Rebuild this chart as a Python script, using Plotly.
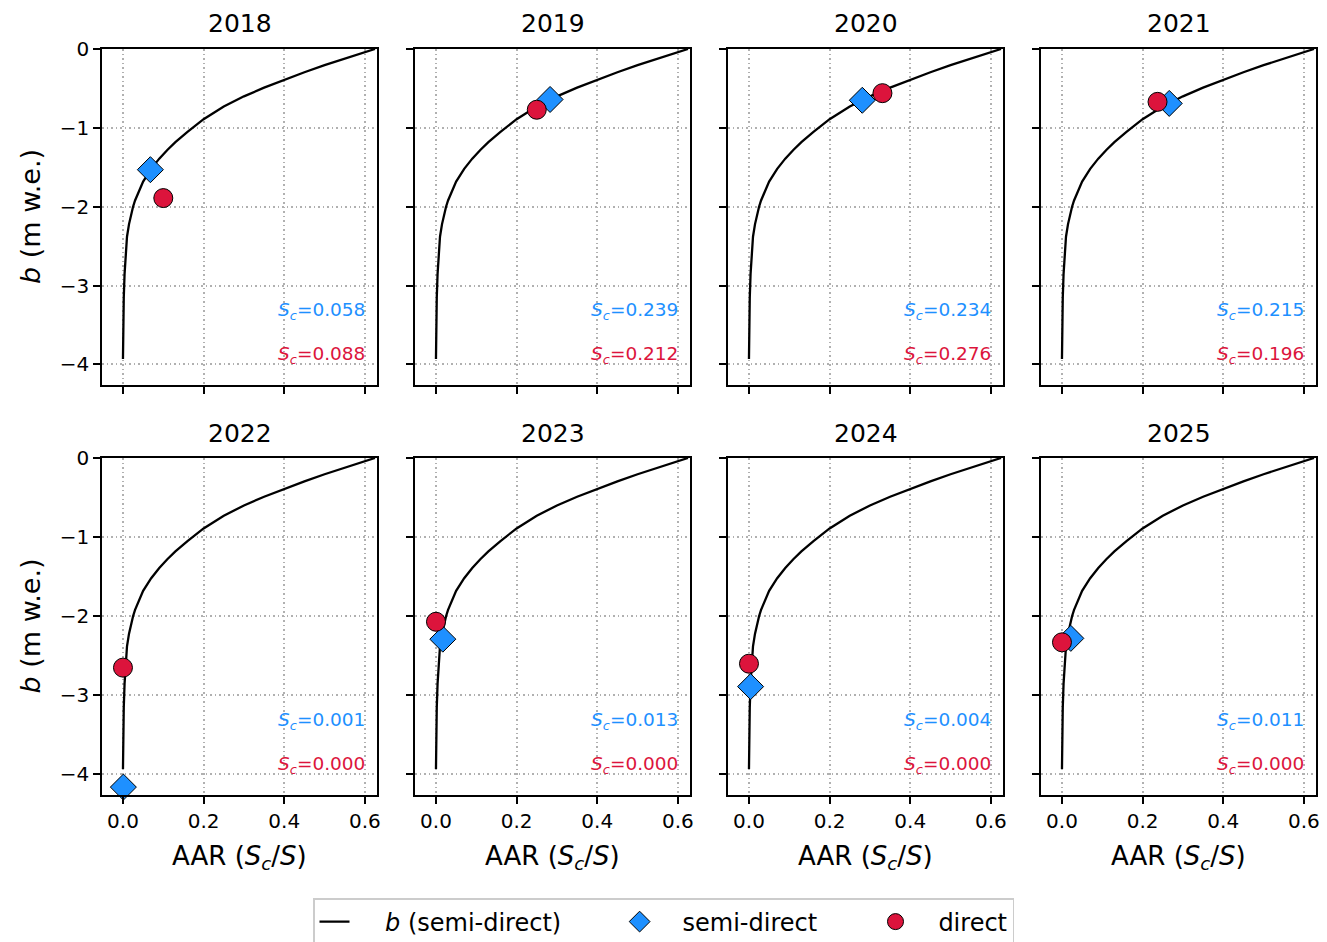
import plotly.graph_objects as go

W, H = 1327, 942

years = ["2018", "2019", "2020", "2021", "2022", "2023", "2024", "2025"]

# b (semi-direct) curve: AAR vs b (m w.e.)
curve_aar = [0.000, 0.0005, 0.001, 0.002, 0.004, 0.0066, 0.010, 0.015, 0.020, 0.025,
             0.030, 0.040, 0.050, 0.070, 0.090, 0.110, 0.130, 0.160, 0.200, 0.250,
             0.300, 0.350, 0.400, 0.450, 0.500, 0.550, 0.600, 0.625]
curve_b = [-3.93, -3.62, -3.40, -3.15, -2.85, -2.56, -2.38, -2.22, -2.10, -2.00,
           -1.92, -1.79, -1.68, -1.52, -1.39, -1.28, -1.18, -1.05, -0.89, -0.73,
           -0.60, -0.49, -0.39, -0.295, -0.205, -0.12, -0.04, 0.00]

# semi-direct points (diamonds)
semi_aar = [0.068, 0.283, 0.281, 0.266, 0.001, 0.017, 0.004, 0.022]
semi_b = [-1.53, -0.64, -0.65, -0.69, -4.16, -2.29, -2.89, -2.28]

# direct points (circles)
direct_aar = [0.100, 0.250, 0.331, 0.237, 0.000, 0.000, 0.000, 0.000]
direct_b = [-1.89, -0.77, -0.56, -0.67, -2.65, -2.07, -2.60, -2.33]

# Sc annotations
semi_sc = ["0.058", "0.239", "0.234", "0.215", "0.001", "0.013", "0.004", "0.011"]
direct_sc = ["0.088", "0.212", "0.276", "0.196", "0.000", "0.000", "0.000", "0.000"]

x_ticks = [0.0, 0.2, 0.4, 0.6]
x_ticktext = ["0.0", "0.2", "0.4", "0.6"]
y_ticks = [0, -1, -2, -3, -4]
y_ticktext = ["0", "\u22121", "\u22122", "\u22123", "\u22124"]

BLUE = "#1E90FF"
RED = "#DC143C"
FONT = "DejaVu Sans"
NB = "\u00a0"

col_px = [(102, 377), (415, 690), (728, 1003), (1041, 1316)]
row_px = [(49, 385), (458, 795)]

fig = go.Figure()
layout = dict(
    width=W, height=H,
    margin=dict(l=0, r=0, t=0, b=0, autoexpand=False),
    paper_bgcolor="white", plot_bgcolor="white",
    font=dict(family=FONT, color="black"),
    showlegend=True,
    legend=dict(orientation="h", x=0.5, xanchor="center",
                y=1 - 898 / H, yanchor="top",
                bordercolor="#cccccc", borderwidth=1.5, bgcolor="white",
                font=dict(size=24, family=FONT, color="black"),
                traceorder="normal"),
)
annotations = []

leg_names = [NB * 4 + "<i>b</i> (semi-direct)" + NB * 7,
             NB * 3 + "semi-direct" + NB * 7,
             NB * 3 + "direct"]

for i, yr in enumerate(years):
    r, c = divmod(i, 4)
    n = i + 1
    xa = "x" if n == 1 else f"x{n}"
    ya = "y" if n == 1 else f"y{n}"
    xk = "xaxis" if n == 1 else f"xaxis{n}"
    yk = "yaxis" if n == 1 else f"yaxis{n}"
    x0, x1 = col_px[c]
    y0, y1 = row_px[r]

    common = dict(showline=True, linecolor="black", linewidth=1.5, mirror=True,
                  ticks="outside", ticklen=7, tickwidth=1.5, tickcolor="black",
                  showgrid=True, gridcolor="#b0b0b0", griddash="1.5px,3px", gridwidth=1.5,
                  zeroline=False, tickfont=dict(size=20, family=FONT, color="black"))
    layout[xk] = dict(common, domain=[x0 / W, x1 / W], range=[-0.052, 0.630],
                      tickvals=x_ticks, ticktext=x_ticktext,
                      showticklabels=(r == 1), anchor=ya)
    layout[yk] = dict(common, domain=[1 - y1 / H, 1 - y0 / H], range=[-4.26, 0],
                      tickvals=y_ticks, ticktext=y_ticktext,
                      showticklabels=(c == 0), anchor=xa)

    fig.add_trace(go.Scatter(x=curve_aar, y=curve_b, mode="lines",
                             line=dict(color="black", width=2.3),
                             name=leg_names[0], legendgroup="curve",
                             showlegend=(i == 0), xaxis=xa, yaxis=ya))
    fig.add_trace(go.Scatter(x=[semi_aar[i]], y=[semi_b[i]], mode="markers",
                             marker=dict(symbol="diamond", size=20, color=BLUE,
                                         line=dict(color="black", width=1)),
                             name=leg_names[1], legendgroup="semi",
                             showlegend=(i == 0), xaxis=xa, yaxis=ya, cliponaxis=False))
    fig.add_trace(go.Scatter(x=[direct_aar[i]], y=[direct_b[i]], mode="markers",
                             marker=dict(symbol="circle", size=19, color=RED,
                                         line=dict(color="black", width=1)),
                             name=leg_names[2], legendgroup="direct",
                             showlegend=(i == 0), xaxis=xa, yaxis=ya, cliponaxis=False))

    # panel title
    annotations.append(dict(text=yr, xref="paper", yref="paper",
                            x=(x0 + x1) / 2 / W, y=1 - (y0 - 25) / H,
                            xanchor="center", yanchor="middle", showarrow=False,
                            font=dict(size=25, family=FONT, color="black")))
    # Sc annotations
    annotations.append(dict(text=f"<i>S<sub>c</sub></i>={semi_sc[i]}",
                            xref=f"{xa} domain", yref=f"{ya} domain",
                            x=0.964, y=0.22, xanchor="right", yanchor="middle",
                            showarrow=False, font=dict(size=18.5, family=FONT, color=BLUE)))
    annotations.append(dict(text=f"<i>S<sub>c</sub></i>={direct_sc[i]}",
                            xref=f"{xa} domain", yref=f"{ya} domain",
                            x=0.964, y=0.089, xanchor="right", yanchor="middle",
                            showarrow=False, font=dict(size=18.5, family=FONT, color=RED)))
    if r == 1:
        annotations.append(dict(text="AAR (<i>S<sub>c</sub></i>/<i>S</i>)",
                                xref="paper", yref="paper",
                                x=(x0 + x1) / 2 / W, y=1 - 857 / H,
                                xanchor="center", yanchor="middle", showarrow=False,
                                font=dict(size=26, family=FONT, color="black")))
    if c == 0:
        annotations.append(dict(text="<i>b</i> (m w.e.)", textangle=-90,
                                xref="paper", yref="paper",
                                x=30 / W, y=1 - (y0 + y1) / 2 / H,
                                xanchor="center", yanchor="middle", showarrow=False,
                                font=dict(size=27, family=FONT, color="black")))

layout["annotations"] = annotations
fig.update_layout(**layout)
fig.write_html("out.html", config={"displayModeBar": False},
               post_script="document.body.style.margin='0px';")
